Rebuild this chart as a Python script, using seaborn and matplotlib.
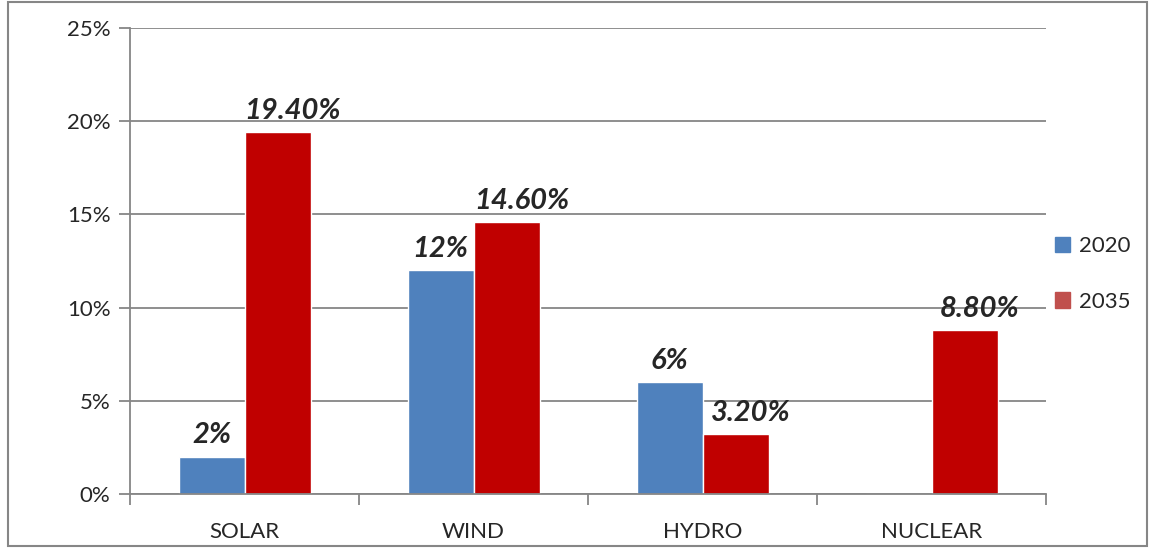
import pandas as pd
import seaborn as sns
import matplotlib.pyplot as plt
from matplotlib.patches import Patch, Rectangle
from matplotlib.ticker import FixedLocator

categories = ["SOLAR", "WIND", "HYDRO", "NUCLEAR"]
years = ["2020", "2035"]
share_2020 = [2, 12, 6, 0]
share_2035 = [19.4, 14.6, 3.2, 8.8]
labels_2020 = ["2%", "12%", "6%", ""]
labels_2035 = ["19.40%", "14.60%", "3.20%", "8.80%"]
yticks = [0, 5, 10, 15, 20, 25]

df = pd.DataFrame({
    "source": categories * 2,
    "year": [years[0]] * 4 + [years[1]] * 4,
    "share": share_2020 + share_2035,
})

sns.set_style("white")
plt.rcParams["font.family"] = ["Lato", "DejaVu Sans"]

fig = plt.figure(figsize=(11.51, 5.48), dpi=100)
ax = fig.add_axes([0.113, 0.0985, 0.796, 0.8505])

bar_colors = {"2020": "#4F81BD", "2035": "#C00000"}
sns.barplot(data=df, x="source", y="share", hue="year", palette=bar_colors,
            width=0.576, gap=0, saturation=1, legend=False, ax=ax)

# excel-style data labels, the 2035 ones sit a bit to the right
for cont, labs, dx in zip(ax.containers, [labels_2020, labels_2035], [0, 11]):
    texts = ax.bar_label(cont, labels=labs, fontsize=21,
                         fontweight="bold", fontstyle="italic")
    for t in texts:
        t.xyann = (dx, 6)

ax.set_ylim(0, 25)
ax.set_xlim(-0.5, 3.5)
ax.set_yticks(yticks)
ax.set_yticklabels([f"{v}%" for v in yticks], fontsize=16)
ax.yaxis.grid(True, color="#868686", linewidth=1.3)
ax.set_axisbelow(True)
ax.tick_params(axis="y", length=8, width=1.3, color="#868686", pad=6, left=True)
ax.tick_params(axis="x", which="major", length=0, labelsize=16, pad=20)
ax.xaxis.set_minor_locator(FixedLocator([-0.5, 0.5, 1.5, 2.5, 3.5]))
ax.tick_params(axis="x", which="minor", length=8, width=1.3, color="#868686",
               bottom=True)
ax.set_xlabel("")
ax.set_ylabel("")
for s in ["top", "right"]:
    ax.spines[s].set_visible(False)
for s in ["left", "bottom"]:
    ax.spines[s].set_color("#868686")
    ax.spines[s].set_linewidth(1.3)

handles = [Patch(color="#4F81BD", label="2020"), Patch(color="#C0504D", label="2035")]
fig.legend(handles=handles, loc="center left", bbox_to_anchor=(0.899, 0.5),
           frameon=False, fontsize=16, handlelength=0.7, handleheight=0.7,
           handletextpad=0.4, labelspacing=1.6)

fig.patches.append(Rectangle((0.007, 0.004), 0.9896, 0.9927, transform=fig.transFigure,
                             fill=False, edgecolor="#868686", linewidth=1.5))

fig.savefig("out.png", dpi=100)
